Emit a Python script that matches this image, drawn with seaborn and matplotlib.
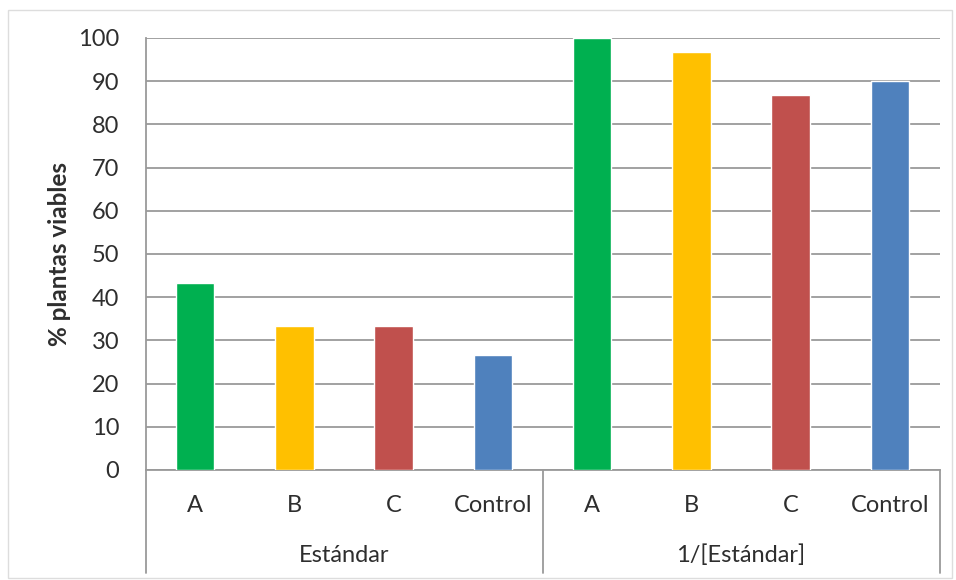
import matplotlib
matplotlib.use("Agg")
import matplotlib.pyplot as plt
import seaborn as sns
import pandas as pd
from matplotlib.patches import Rectangle

# Data
groups = ["Estándar", "1/[Estándar]"]
treatments = ["A", "B", "C", "Control"]
estandar_vals = [43.3, 33.3, 33.3, 26.7]
inverso_vals = [100.0, 96.7, 86.7, 90.0]
y_ticks = [0, 10, 20, 30, 40, 50, 60, 70, 80, 90, 100]

colors = {"A": "#00B050", "B": "#FFC000", "C": "#C0504D", "Control": "#4F81BD"}

rows = []
for g, vals in zip(groups, [estandar_vals, inverso_vals]):
    for t, v in zip(treatments, vals):
        rows.append({"grupo": g, "tratamiento": t, "clave": f"{g}|{t}", "valor": v})
df = pd.DataFrame(rows)
order = list(df["clave"])

sns.set_theme(style="white")
plt.rcParams["font.family"] = ["Lato", "DejaVu Sans"]
text_color = "#2E2E2E"
grid_color = "#9A9A9A"

fig = plt.figure(figsize=(9.56, 5.8), dpi=100)
ax = fig.add_axes([145.5 / 956, 1 - 470 / 580, (939.5 - 145.5) / 956, (470 - 38) / 580])

sns.barplot(data=df, x="clave", y="valor", hue="tratamiento", order=order,
            palette=colors, dodge=False, width=0.39, legend=False,
            saturation=1, ax=ax, zorder=3)

ax.set_xlim(-0.5, len(order) - 0.5)
ax.set_ylim(0, 100)
ax.set_yticks(y_ticks)
ax.set_yticklabels([str(v) for v in y_ticks], fontsize=17, color=text_color)
ax.yaxis.grid(True, color=grid_color, linewidth=1.3, zorder=0)
ax.set_axisbelow(True)

ax.set_xticks(range(len(order)))
ax.set_xticklabels(list(df["tratamiento"]), fontsize=17, color=text_color)
ax.tick_params(axis="x", length=0, pad=18)
ax.tick_params(axis="y", length=0, pad=19, left=False)

for side in ["top", "right"]:
    ax.spines[side].set_visible(False)
ax.spines["left"].set_color(grid_color)
ax.spines["left"].set_linewidth(1.3)
ax.spines["bottom"].set_color(grid_color)
ax.spines["bottom"].set_linewidth(1.3)

ax.set_xlabel("")
ax.set_ylabel("% plantas viables", fontsize=17.5, fontweight="bold", color=text_color, labelpad=5)

# Multi-level category axis: separators and group labels
trans = ax.get_xaxis_transform()
depth = -(573 - 470) / 432
for xb in [-0.5, 3.5, 7.5]:
    ax.plot([xb, xb], [0, depth], transform=trans, color=grid_color,
            linewidth=1.3, clip_on=False)
for i, g in enumerate(groups):
    ax.text(i * 4 + 1.5, -(555 - 470) / 432, g, transform=trans, ha="center",
            va="center", fontsize=17, color=text_color)

# Light chart border
fig.patches.append(Rectangle((8 / 956, 2 / 580), 944 / 956, 568 / 580,
                             transform=fig.transFigure, fill=False,
                             edgecolor="#DDDDDD", linewidth=1.0))

fig.savefig("out.png", dpi=100, facecolor="white")
